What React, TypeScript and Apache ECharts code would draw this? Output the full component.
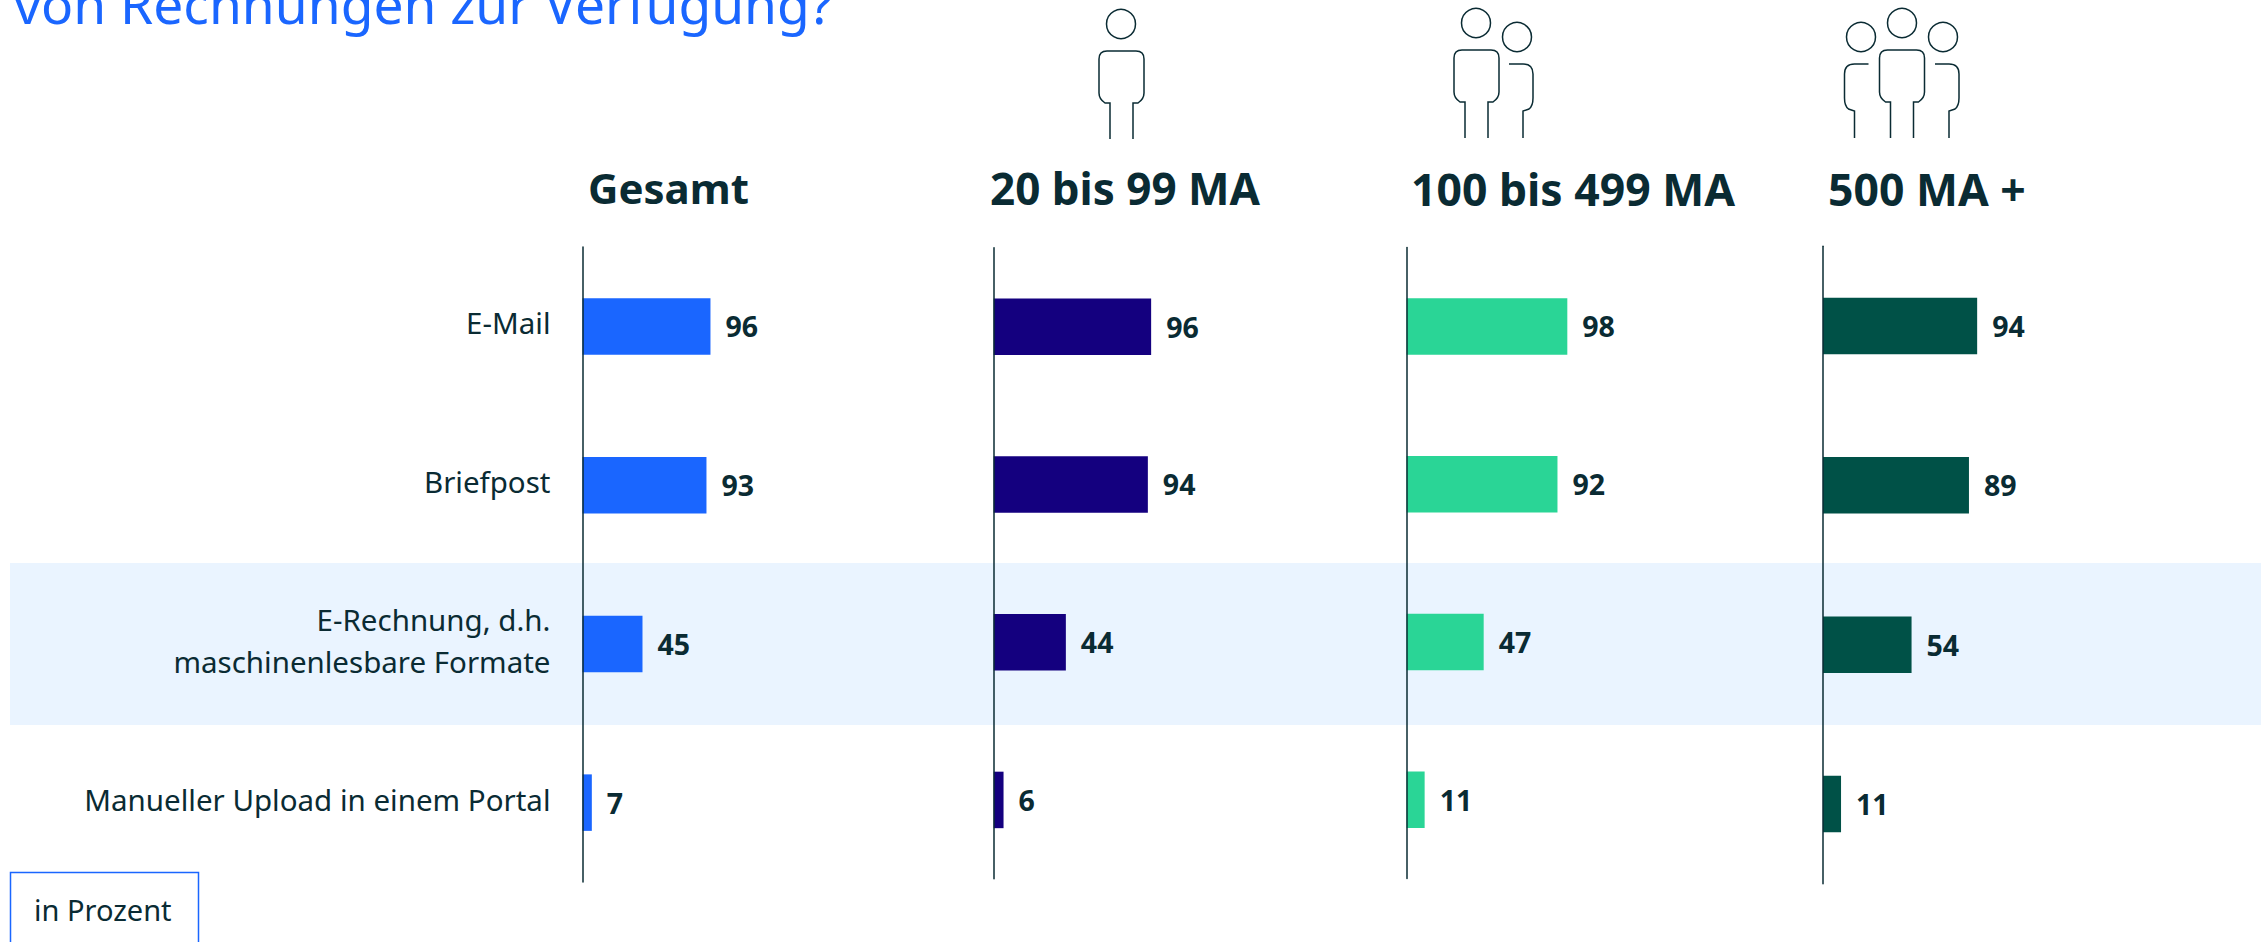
import React, { useEffect, useRef } from "react";
import * as echarts from "echarts";

const titleText = "von Rechnungen zur Verfügung?";
const unitText = "in Prozent";
const categories = ["E-Mail", "Briefpost", "E-Rechnung, d.h.\nmaschinenlesbare Formate", "Manueller Upload in einem Portal"];
const panelNames = ["Gesamt", "20 bis 99 MA", "100 bis 499 MA", "500 MA +"];
const gesamt = [96, 93, 45, 7];
const klein = [96, 94, 44, 6];
const mittel = [98, 92, 47, 11];
const gross = [94, 89, 54, 11];
const panelValues = [gesamt, klein, mittel, gross];
const panelColors = ["#1a66ff", "#14007f", "#2ad596", "#005147"];
const panelGrids = [
  { left: 582.5, top: 247, width: 133.3, height: 635 },
  { left: 993.7, top: 247.8, width: 164, height: 631 },
  { left: 1406.6, top: 247.6, width: 164, height: 631 },
  { left: 1823, top: 246.3, width: 164, height: 637.5 },
];
const labelGrid = { left: 582.5, top: 243.5, width: 133.3, height: 635 };
const headerX = [583, 985, 1406, 1823];
const headerSizes = [42, 44, 44.5, 44.5];

const INK = "#0a2b33";
const FONT = "'Noto Sans', sans-serif";

const SIDE = "M0 0 L14 0 Q24 0 24 10 L24 34 Q24 42 20 45 L14 47 L14 74";
const SIDE_L = "M24 0 L10 0 Q0 0 0 10 L0 34 Q0 42 4 45 L10 47 L10 74";

echarts.graphic.registerShape("personBody", echarts.graphic.extendPath("M11 88 L11 52 L6 52 Q0 48 0 42 L0 8 Q0 0 8 0 L37 0 Q45 0 45 8 L45 42 Q45 48 39 52 L34 52 L34 88", {}));
echarts.graphic.registerShape("sideRight", echarts.graphic.extendPath(SIDE, {}));
echarts.graphic.registerShape("sideLeft", echarts.graphic.extendPath(SIDE_L, {}));

function icons() {
  const line = { fill: "none", stroke: INK, lineWidth: 1.5 };
  const head = (cx: number, cy: number) => ({ type: "circle", shape: { cx, cy, r: 14.5 }, style: line, silent: true });
  const body = (x: number, y: number) => ({ type: "personBody", x, y, style: line, silent: true });
  const side = (type: string, x: number) => ({ type, x, y: 64, style: line, silent: true });
  return [
    head(1121, 24), body(1099, 51),
    head(1476, 23), body(1454, 50), head(1517, 37), side("sideRight", 1509),
    head(1902, 23), body(1879.5, 50), head(1861, 37), head(1943, 37),
    side("sideLeft", 1844.5), side("sideRight", 1935),
  ];
}

export default function App() {
  const ref = useRef<HTMLDivElement>(null);
  useEffect(() => {
    const chart = echarts.init(ref.current!, undefined, { renderer: "svg" });
    chart.setOption({
      animation: false,
      backgroundColor: "#fff",
      title: [
        { text: titleText, left: 9, top: -28, textStyle: { color: "#1a66ff", fontFamily: FONT, fontWeight: "normal", fontSize: 53.3 } },
        ...panelNames.map((n, i) => ({
          text: n, left: headerX[i], top: 161,
          textStyle: { color: INK, fontFamily: FONT, fontWeight: "bold", fontSize: headerSizes[i] },
        })),
      ],
      graphic: [
        { type: "rect", z: -10, shape: { x: 10, y: 563, width: 2251, height: 162 }, style: { fill: "#eaf4ff" }, silent: true },
        { type: "rect", shape: { x: 10.5, y: 872.5, width: 188, height: 90 }, style: { fill: "none", stroke: "#1a66ff", lineWidth: 1.5 }, silent: true },
        { type: "text", x: 34, y: 895, style: { text: unitText, fill: INK, font: `29px ${FONT}` }, silent: true },
        ...icons(),
      ],
      grid: [...panelGrids, labelGrid],
      xAxis: [...panelGrids, labelGrid].map((_, i) => ({ type: "value", gridIndex: i, min: 0, max: 100, show: false })),
      yAxis: [
        ...panelGrids.map((_, i) => ({
          type: "category", gridIndex: i, inverse: true, data: categories, z: 5,
          axisLine: { show: true, lineStyle: { color: INK, width: 1.5 } },
          axisTick: { show: false },
          axisLabel: { show: false },
        })),
        {
          type: "category", gridIndex: 4, inverse: true, data: categories,
          axisLine: { show: false },
          axisTick: { show: false },
          axisLabel: { show: true, margin: 32, align: "right", color: INK, fontFamily: FONT, fontSize: 29.5, lineHeight: 42, interval: 0 },
        },
      ],
      series: panelValues.map((vals, i) => ({
        type: "bar", xAxisIndex: i, yAxisIndex: i, data: vals, barWidth: 56.5,
        itemStyle: { color: panelColors[i] },
        label: { show: true, position: "right", distance: 15, color: INK, fontFamily: FONT, fontWeight: "bold", fontSize: 28.5 },
      })),
    });
    return () => chart.dispose();
  }, []);
  return <div ref={ref} style={{ position: "absolute", left: 0, top: 0, width: 2264, height: 942 }} />;
}
